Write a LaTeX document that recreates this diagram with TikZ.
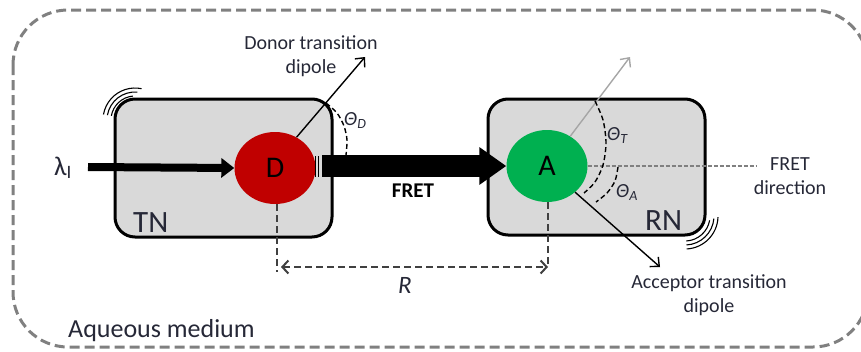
\documentclass[tikz,border=0pt]{standalone}
\usepackage{fontspec}
\setmainfont{Carlito}
\usetikzlibrary{shapes.geometric,arrows.meta}
\definecolor{dred}{HTML}{C00000}
\definecolor{agreen}{HTML}{00B050}
\definecolor{boxgray}{HTML}{D9D9D9}
\definecolor{outergray}{HTML}{808080}
\definecolor{dipgray}{HTML}{A6A6A6}
\definecolor{rgray}{HTML}{404040}
\definecolor{txt}{RGB}{38,40,55}
\begin{document}
\begin{tikzpicture}[x=1pt,y=-1pt,
  outerline/.style={draw=outergray,line width=3pt,dash pattern=on 10pt off 5pt},
  nanobox/.style={draw=black,line width=3pt,fill=boxgray,rounded corners=20pt,
    minimum width=217pt,inner sep=0pt},
  dye/.style={ellipse,inner sep=0pt,minimum width=81pt,minimum height=72pt,
    font=\fontsize{30}{32}\selectfont},
  lbl/.style={text=txt,inner sep=0pt,font=\fontsize{20}{24}\selectfont,align=center},
  biglbl/.style={text=txt,inner sep=0pt,font=\fontsize{31}{34}\selectfont},
  anglbl/.style={text=txt,inner sep=0pt,font=\fontsize{20}{24}\selectfont\itshape},
  anglearc/.style={draw=black,line width=1.4pt,dash pattern=on 5pt off 3pt},
  dipole/.style={draw=black,line width=1.4pt,-{Straight Barb[length=7pt,width=13pt,line width=1.4pt]}},
  graydipole/.style={draw=dipgray,line width=1.4pt,-{Straight Barb[length=7pt,width=13pt,line width=1.4pt]}},
  fretdir/.style={draw=outergray,line width=1.6pt,dash pattern=on 4pt off 2pt},
  rline/.style={draw=rgray,line width=2pt,dash pattern=on 7pt off 4pt},
  motion/.style={draw=black,line width=1.1pt}
]
\useasboundingbox (0,0) rectangle (861,351);
\begin{scope}
  \clip (0,0) rectangle (861,351);
  \draw[outerline,rounded corners=55pt] (13,10) rectangle (868,347);
\end{scope}

% nanoparticle boxes
\node[nanobox,minimum height=138pt] (TN) at (223.5,168) {};
\node[nanobox,minimum height=136pt] (RN) at (596.5,167) {};

% motion arcs
\foreach \r/\a in {24/95,28/85,32/78}
  \draw[motion] (135,120) ++(-\a:\r) arc[start angle=-\a,end angle=-170,radius=\r];
\foreach \r/\a in {25/-10,29/-5,33/-2}
  \draw[motion] (685,216) ++(87:\r) arc[start angle=87,end angle=-\a,radius=\r];

% dyes
\node[dye,fill=dred] (D) at (275,168) {D};
\node[dye,fill=agreen] (A) at (547,166) {A};

% R distance
\coordinate (Dfoot) at (277,267);
\coordinate (Afoot) at (548,267);
\draw[rline] ([xshift=2pt]D.south) -- ([yshift=-5pt]Dfoot);
\draw[rline] ([xshift=1pt]A.south) -- (Afoot);
\draw[rline,{Straight Barb[length=6pt,width=13pt,line width=2pt]}-{Straight Barb[length=6pt,width=13pt,line width=2pt]}]
  ([xshift=4pt]Dfoot) -- (Afoot);
\node[anglbl,font=\fontsize{25}{28}\selectfont\itshape,anchor=base] (Rl) at (405,293) {R};

% excitation arrow
\coordinate (lstart) at (88,167);
\draw[line width=8pt,-{Triangle[length=13pt,width=19pt]}] (lstart) -- (D.west);
\node[text=txt,inner sep=0pt,anchor=base west,font=\fontsize{27}{30}\selectfont] (lam) at (54,175) {λ\textsubscript{I}};

% FRET arrow
\coordinate (fstart) at (322,166);
\draw[line width=1pt] (315.5,156) -- (315.5,177);
\draw[line width=1pt] (318.5,156) -- (318.5,177);
\draw[line width=22pt,-{Triangle[length=27pt,width=36pt]}] (fstart) -- (A.west);
\node[inner sep=0pt,anchor=base,font=\fontsize{21}{24}\selectfont\bfseries] (fretlbl) at (413,197) {FRET};

% donor dipole
\coordinate (dtip) at (365,57);
\draw[dipole] (D.55) -- (dtip);
\node[lbl] (dlbl) at (311,56) {Donor transition\\dipole};
\draw[anglearc] plot[smooth] coordinates {(326,103) (337,113) (344,126) (347,140) (346,155)};
\node[anglbl,anchor=base west] (thD) at (344,125) {Θ\textsubscript{D}};

% acceptor side
\coordinate (ttip) at (630,57);
\draw[graydipole] (A.52) -- (ttip);
\coordinate (atip) at (660,267);
\draw[dipole] (A.-43) -- (atip);
\coordinate (fretend) at (757,166);
\draw[fretdir] (A.east) -- (fretend);
\node[lbl] (flbl) at (790,176) {FRET\\direction};
\node[lbl] (albl) at (709,295) {Acceptor transition\\dipole};
\draw[anglearc] plot[smooth] coordinates {(595,101) (603,120) (606,143) (603,165) (595,182) (584,193)};
\draw[anglearc] plot[smooth] coordinates {(618,167) (615,181) (607,193) (596,202)};
\node[anglbl,anchor=base west] (thT) at (607,140) {Θ\textsubscript{T}};
\node[anglbl,anchor=base west] (thA) at (616,197) {Θ\textsubscript{A}};

% labels
\node[biglbl,anchor=base west] (tnl) at (133,232) {TN};
\node[biglbl,anchor=base west] (rnl) at (645,230) {RN};
\node[text=txt,inner sep=0pt,anchor=base west,font=\fontsize{26}{30}\selectfont] (aq) at (68,337) {Aqueous medium};
\end{tikzpicture}
\end{document}
